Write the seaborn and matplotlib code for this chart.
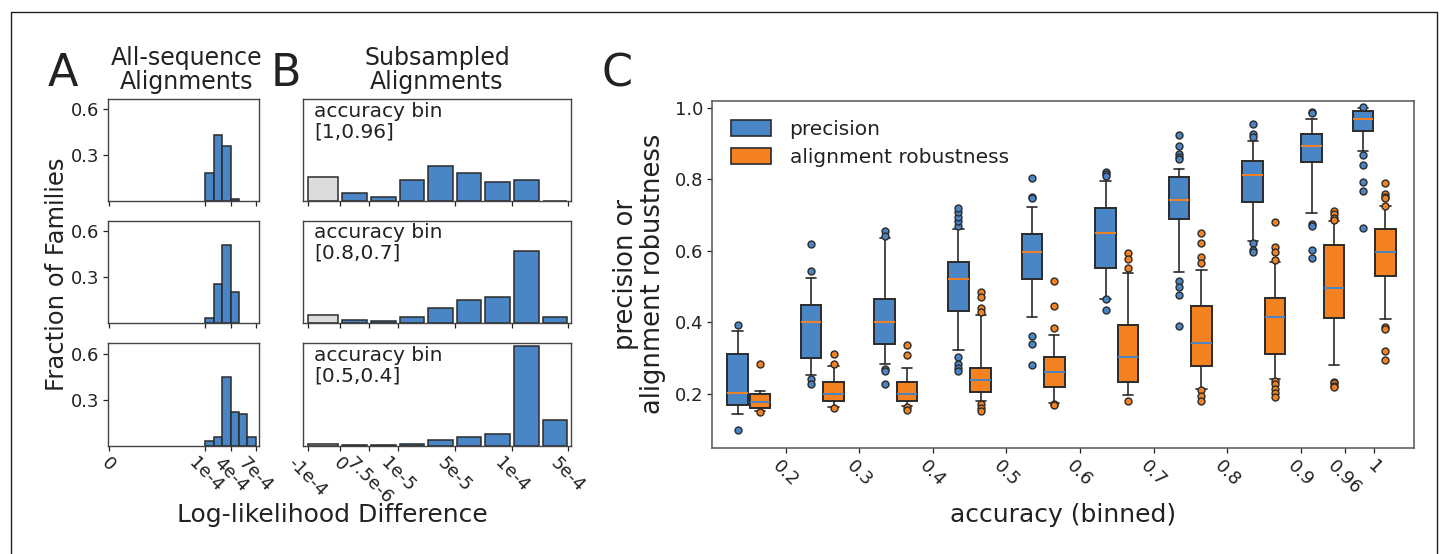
import matplotlib
matplotlib.use("Agg")
import matplotlib.pyplot as plt
import seaborn as sns
import numpy as np
from matplotlib.patches import Patch
from matplotlib.lines import Line2D

sns.set_style("ticks")
plt.rcParams['font.family'] = ['DejaVu Sans']
plt.rcParams['text.color'] = '#222222'
plt.rcParams['axes.labelcolor'] = '#222222'
plt.rcParams['xtick.color'] = '#222222'
plt.rcParams['ytick.color'] = '#222222'

BLUE = '#4a85c5'
ORANGE = '#f58220'
GRAY = '#dcdcdc'
EDGE = '#2b2b2b'

# ---------------- Panel A data (bin centres in units of 1e-4) ----------------
A_centers_top = [1.5, 2.5, 3.5, 4.5]
A_vals_top = [0.183, 0.432, 0.355, 0.011]
A_centers_mid = [1.5, 2.5, 3.5, 4.5]
A_vals_mid = [0.029, 0.256, 0.511, 0.200]
A_centers_bot = [1.5, 2.5, 3.5, 4.5, 5.5, 6.5]
A_vals_bot = [0.029, 0.055, 0.447, 0.221, 0.205, 0.055]
A_tick_pos = [-10.5, 1, 4, 7]
A_tick_labels = ['0', '1e-4', '4e-4', '7e-4']

# ---------------- Panel B data (bin index units) ----------------
B_gray_center = [-0.6]
B_gray_top = [0.157]
B_gray_mid = [0.053]
B_gray_bot = [0.010]
B_centers = [0.5, 1.5, 2.5, 3.5, 4.5, 5.5, 6.5, 7.5]
B_vals_top = [0.049, 0.020, 0.132, 0.227, 0.181, 0.124, 0.135, 0.0]
B_vals_mid = [0.020, 0.009, 0.035, 0.095, 0.147, 0.169, 0.469, 0.040]
B_vals_bot = [0.004, 0.002, 0.011, 0.033, 0.053, 0.073, 0.648, 0.169]
B_tick_pos = [-1.15, 0, 1, 2, 4, 6, 7.95]
B_tick_labels = ['-1e-4', '0', '7.5e-6', '1e-5', '5e-5', '1e-4', '5e-4']
B_bin_labels = ['accuracy bin\n[1,0.96]', 'accuracy bin\n[0.8,0.7]', 'accuracy bin\n[0.5,0.4]']

# ---------------- Panel C data ----------------
C_centers = [0.15, 0.25, 0.35, 0.45, 0.55, 0.65, 0.75, 0.85, 0.93, 1.0]
C_ticks = [0.2, 0.3, 0.4, 0.5, 0.6, 0.7, 0.8, 0.9, 0.96, 1.0]
C_tick_labels = ['0.2', '0.3', '0.4', '0.5', '0.6', '0.7', '0.8', '0.9', '0.96', '1']

prec_q1 = [0.169, 0.302, 0.339, 0.432, 0.522, 0.553, 0.689, 0.737, 0.848, 0.936]
prec_med = [0.203, 0.400, 0.401, 0.521, 0.597, 0.651, 0.743, 0.811, 0.893, 0.970]
prec_q3 = [0.311, 0.450, 0.465, 0.570, 0.648, 0.719, 0.808, 0.852, 0.926, 0.991]
prec_lo = [0.145, 0.254, 0.283, 0.323, 0.414, 0.467, 0.541, 0.629, 0.705, 0.878]
prec_hi = [0.376, 0.525, 0.635, 0.662, 0.724, 0.796, 0.830, 0.908, 0.970, 1.000]
prec_fliers = [
    [0.392, 0.100],
    [0.620, 0.543, 0.241, 0.227],
    [0.656, 0.642, 0.269, 0.265, 0.229],
    [0.670, 0.683, 0.695, 0.708, 0.721, 0.304, 0.283, 0.272, 0.265],
    [0.804, 0.752, 0.748, 0.362, 0.341, 0.282],
    [0.822, 0.816, 0.810, 0.465, 0.436],
    [0.923, 0.894, 0.870, 0.863, 0.857, 0.515, 0.500, 0.478, 0.390],
    [0.955, 0.927, 0.918, 0.623, 0.604, 0.596],
    [0.989, 0.985, 0.674, 0.670, 0.604, 0.580],
    [1.001, 0.868, 0.840, 0.794, 0.768, 0.663],
]

rob_q1 = [0.160, 0.180, 0.180, 0.205, 0.219, 0.235, 0.278, 0.312, 0.413, 0.531]
rob_med = [0.177, 0.200, 0.199, 0.239, 0.262, 0.303, 0.343, 0.416, 0.497, 0.596]
rob_q3 = [0.199, 0.235, 0.235, 0.274, 0.304, 0.393, 0.447, 0.468, 0.617, 0.660]
rob_lo = [0.153, 0.164, 0.166, 0.180, 0.174, 0.197, 0.213, 0.242, 0.281, 0.410]
rob_hi = [0.208, 0.278, 0.272, 0.422, 0.364, 0.537, 0.546, 0.568, 0.684, 0.726]
rob_fliers = [
    [0.285, 0.149],
    [0.312, 0.285, 0.160],
    [0.337, 0.309, 0.163, 0.155],
    [0.484, 0.472, 0.440, 0.430, 0.171, 0.162, 0.153],
    [0.515, 0.447, 0.386, 0.171, 0.168],
    [0.595, 0.578, 0.551, 0.180],
    [0.650, 0.621, 0.582, 0.565, 0.210, 0.194, 0.180],
    [0.681, 0.611, 0.596, 0.574, 0.236, 0.227, 0.213, 0.203, 0.192],
    [0.713, 0.703, 0.693, 0.687, 0.235, 0.230, 0.223, 0.219],
    [0.791, 0.759, 0.752, 0.748, 0.727, 0.387, 0.383, 0.320, 0.296],
]

# ---------------- Figure ----------------
fig = plt.figure(figsize=(14.47, 5.54), dpi=100)
W, H = 1447.0, 554.0


def fax(l, r, t, b):
    return fig.add_axes([l / W, 1 - b / H, (r - l) / W, (b - t) / H])


rows = [(99, 200.5), (220.7, 322.7), (343.3, 445.5)]
A_data = [(A_centers_top, A_vals_top), (A_centers_mid, A_vals_mid), (A_centers_bot, A_vals_bot)]
B_data = [(B_gray_top, B_vals_top), (B_gray_mid, B_vals_mid), (B_gray_bot, B_vals_bot)]


def style_small(ax):
    for s in ax.spines.values():
        s.set_color('#444444')
        s.set_linewidth(1.0)
    ax.tick_params(axis='both', length=3.5, width=0.9, labelsize=13, pad=3)


for i, (t, b) in enumerate(rows):
    # ---- panel A ----
    ax = fax(108.3, 258.5, t, b)
    xs, ys = A_data[i]
    sns.barplot(x=xs, y=ys, native_scale=True, width=1.0, color=BLUE, saturation=1,
                edgecolor=EDGE, linewidth=1.1, errorbar=None, ax=ax)
    ax.set_xlim(-10.55, 7.31)
    ax.set_ylim(0, 0.667)
    ax.set_yticks([0.3, 0.6])
    ax.set_yticklabels(['0.3', '0.6'])
    ax.set_xticks(A_tick_pos)
    if i == 2:
        ax.set_xticklabels(A_tick_labels, rotation=-45)
    else:
        ax.set_xticklabels([])
    ax.set_xlabel('')
    ax.set_ylabel('')
    style_small(ax)

    # ---- panel B ----
    ax = fax(303.3, 570.6, t, b)
    gy, bys = B_data[i]
    sns.barplot(x=B_gray_center, y=gy, native_scale=True, width=1.06, color=GRAY, saturation=1,
                edgecolor=EDGE, linewidth=1.1, errorbar=None, ax=ax)
    sns.barplot(x=B_centers, y=bys, native_scale=True, width=0.86, color=BLUE, saturation=1,
                edgecolor=EDGE, linewidth=1.1, errorbar=None, ax=ax)
    ax.set_xlim(-1.3, 8.05)
    ax.set_ylim(0, 0.667)
    ax.set_yticks([])
    ax.set_xticks(B_tick_pos)
    if i == 2:
        ax.set_xticklabels(B_tick_labels, rotation=-45)
    else:
        ax.set_xticklabels([])
    ax.set_xlabel('')
    ax.set_ylabel('')
    style_small(ax)
    ax.text(0.04, 0.975, B_bin_labels[i], transform=ax.transAxes, va='top', ha='left',
            fontsize=14.5, linespacing=1.1)

# ---------------- Panel C ----------------
axc = fax(712, 1414, 100.7, 447.7)


def stats(q1, med, q3, lo, hi, fl):
    return [dict(q1=a, med=m, q3=c, whislo=l, whishi=h, fliers=f)
            for a, m, c, l, h, f in zip(q1, med, q3, lo, hi, fl)]


off = 0.0152
bw = 0.028
pos_p = [c - off for c in C_centers]
pos_r = [c + off for c in C_centers]

for st, pos, fc, mc in [
    (stats(prec_q1, prec_med, prec_q3, prec_lo, prec_hi, prec_fliers), pos_p, BLUE, ORANGE),
    (stats(rob_q1, rob_med, rob_q3, rob_lo, rob_hi, rob_fliers), pos_r, ORANGE, BLUE),
]:
    axc.bxp(st, positions=pos, widths=bw, patch_artist=True, manage_ticks=False,
            boxprops=dict(facecolor=fc, edgecolor=EDGE, linewidth=1.4),
            medianprops=dict(color=mc, linewidth=1.4),
            whiskerprops=dict(color=EDGE, linewidth=1.2),
            capprops=dict(color=EDGE, linewidth=1.2),
            capwidths=bw * 0.5,
            flierprops=dict(marker='o', markerfacecolor=fc, markeredgecolor=EDGE,
                            markersize=5, markeredgewidth=1.0, linestyle='none'))

axc.set_xlim(0.1, 1.054)
axc.set_ylim(0.05, 1.02)
axc.set_xticks(C_ticks)
axc.set_xticklabels(C_tick_labels, rotation=-45)
axc.set_yticks([0.2, 0.4, 0.6, 0.8, 1.0])
axc.set_yticklabels(['0.2', '0.4', '0.6', '0.8', '1.0'])
for s in axc.spines.values():
    s.set_color('#555555')
    s.set_linewidth(1.1)
axc.tick_params(axis='both', length=3.5, width=0.9, labelsize=13, pad=3)
axc.set_xlabel('accuracy (binned)', fontsize=18, labelpad=4)
axc.set_ylabel('precision or\nalignment robustness', fontsize=18.5, labelpad=6, linespacing=1.05)
handles = [Patch(facecolor=BLUE, edgecolor=EDGE, linewidth=1.2, label='precision'),
           Patch(facecolor=ORANGE, edgecolor=EDGE, linewidth=1.2, label='alignment robustness')]
axc.legend(handles=handles, loc='upper left', frameon=False, fontsize=14.5,
           handlelength=2.0, handleheight=0.8, handletextpad=0.9, borderaxespad=0.55,
           labelspacing=0.45)

# ---------------- Figure texts ----------------
fig.text(63 / W, 1 - 73 / H, 'A', fontsize=32, ha='center', va='center')
fig.text(286 / W, 1 - 73 / H, 'B', fontsize=32, ha='center', va='center')
fig.text(617 / W, 1 - 74 / H, 'C', fontsize=32, ha='center', va='center')
fig.text(187 / W, 1 - 70 / H, 'All-sequence\nAlignments', fontsize=17, ha='center',
         va='center', linespacing=0.95)
fig.text(437 / W, 1 - 70 / H, 'Subsampled\nAlignments', fontsize=17, ha='center',
         va='center', linespacing=0.95)
fig.text(57 / W, 1 - 274 / H, 'Fraction of Families', fontsize=17.5, rotation=90,
         ha='center', va='center')
fig.text(332 / W, 1 - 515 / H, 'Log-likelihood Difference', fontsize=18,
         ha='center', va='center')

# figure frame
fx0, fx1, fy1 = 10.5 / W, 1437 / W, 1 - 12 / H
fig.add_artist(Line2D([fx0, fx0], [0, fy1], color='#222222', lw=1.0))
fig.add_artist(Line2D([fx0, fx1], [fy1, fy1], color='#222222', lw=1.0))
fig.add_artist(Line2D([fx1, fx1], [0, fy1], color='#222222', lw=1.0))

fig.savefig('out.png', dpi=100)
